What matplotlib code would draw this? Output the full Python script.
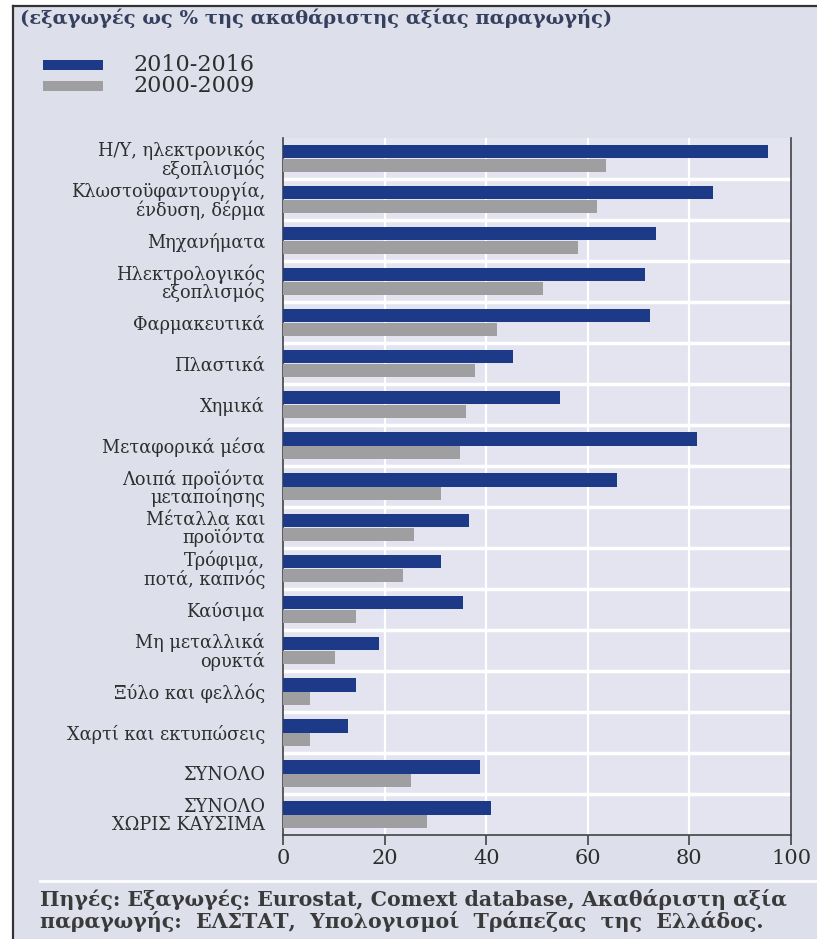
import matplotlib
matplotlib.use("Agg")
import matplotlib.pyplot as plt
import numpy as np
from matplotlib.patches import Rectangle

plt.rcParams['font.family'] = ['DejaVu Serif']

# κλάδοι (από πάνω προς τα κάτω)
categories = [
    "Η/Υ, ηλεκτρονικός\nεξοπλισμός",
    "Κλωστοϋφαντουργία,\nένδυση, δέρμα",
    "Μηχανήματα",
    "Ηλεκτρολογικός\nεξοπλισμός",
    "Φαρμακευτικά",
    "Πλαστικά",
    "Χημικά",
    "Μεταφορικά μέσα",
    "Λοιπά προϊόντα\nμεταποίησης",
    "Μέταλλα και\nπροϊόντα",
    "Τρόφιμα,\nποτά, καπνός",
    "Καύσιμα",
    "Μη μεταλλικά\nορυκτά",
    "Ξύλο και φελλός",
    "Χαρτί και εκτυπώσεις",
    "ΣΥΝΟΛΟ",
    "ΣΥΝΟΛΟ\nΧΩΡΙΣ ΚΑΥΣΙΜΑ",
]
share_2010_2016 = [95.5, 84.6, 73.4, 71.3, 72.2, 45.3, 54.5, 81.5, 65.7,
                   36.6, 31.1, 35.4, 18.9, 14.4, 12.8, 38.8, 40.9]
share_2000_2009 = [63.6, 61.8, 58.1, 51.2, 42.1, 37.8, 36.0, 34.8, 31.1,
                   25.8, 23.6, 14.4, 10.2, 5.3, 5.3, 25.2, 28.3]
period_labels = ["2010-2016", "2000-2009"]
xticks = [0, 20, 40, 60, 80, 100]

BLUE = "#1d3a88"
GREY = "#9f9fa2"
PANEL = "#dddfeb"
PLOT_BG = "#e3e4ef"
TEXT = "#2e2e2e"

W, H = 817, 939
fig = plt.figure(figsize=(W / 100, H / 100), dpi=100)
fig.patch.set_facecolor("white")

# πλαίσιο του διαγράμματος με σκούρο περίγραμμα αριστερά/πάνω
panel = Rectangle((13 / W, 0), 1 - 13 / W, 1 - 6 / H, transform=fig.transFigure,
                  facecolor=PANEL, edgecolor="none", zorder=-5)
fig.patches.append(panel)
fig.add_artist(plt.Line2D([13 / W, 13 / W], [0, 1 - 6 / H], color="#333333",
                          lw=1.6, transform=fig.transFigure, zorder=-4))
fig.add_artist(plt.Line2D([13 / W, 1], [1 - 6 / H, 1 - 6 / H], color="#333333",
                          lw=1.6, transform=fig.transFigure, zorder=-4))

ax = fig.add_axes([283 / W, 1 - 835 / H, (791 - 283) / W, (835 - 138) / H])
ax.set_facecolor(PLOT_BG)

y = np.arange(len(categories))
h = 0.34
ax.barh(y - h / 2, share_2010_2016, height=h, color=BLUE, zorder=3)
ax.barh(y + h / 2, share_2000_2009, height=h, color=GREY, zorder=3)

ax.set_ylim(len(categories) - 0.5, -0.5)
ax.set_xlim(0, 100)

# λευκές γραμμές πλέγματος
for xv in xticks[1:-1]:
    ax.axvline(xv, color="white", lw=1.6, zorder=1)
for b in y[:-1] + 0.5:
    ax.axhline(b, color="white", lw=2.5, zorder=2)

ax.set_yticks(y)
ax.set_yticklabels(categories, fontsize=12.8, color=TEXT, linespacing=0.95)
ax.tick_params(axis="y", length=0, pad=13)
ax.set_xticks(xticks)
ax.set_xticklabels([str(t) for t in xticks], fontsize=15, color=TEXT)
ax.tick_params(axis="x", direction="out", length=7, width=1.2, color="#444444", pad=3)

ax.spines["top"].set_visible(False)
for s in ("left", "right", "bottom"):
    ax.spines[s].set_color("#444444")
    ax.spines[s].set_linewidth(1.2)

# τίτλος μονάδων
fig.text(20 / W, 1 - 18 / H, "(εξαγωγές ως % της ακαθάριστης αξίας παραγωγής)",
         fontsize=14, fontweight="bold", color="#34405e", va="center", ha="left")

# υπόμνημα
for i, (lab, col) in enumerate(zip(period_labels, [BLUE, GREY])):
    yc = 65 + i * 21
    fig.patches.append(Rectangle((43 / W, 1 - (yc + 5) / H), 60 / W, 10 / H,
                                 transform=fig.transFigure, facecolor=col,
                                 edgecolor="none"))
    fig.text(133 / W, 1 - yc / H, lab, fontsize=16, color=TEXT,
             va="center", ha="left")

# διαχωριστική γραμμή και πηγές
fig.add_artist(plt.Line2D([40 / W, 1], [1 - 881 / H, 1 - 881 / H], color="white",
                          lw=2, transform=fig.transFigure))
fig.text(40 / W, 1 - 900 / H,
         "Πηγές: Εξαγωγές: Eurostat, Comext database, Ακαθάριστη αξία",
         fontsize=14.8, fontweight="bold", color="#3a3a3a", va="center", ha="left")
fig.text(40 / W, 1 - 921 / H,
         "παραγωγής:  ΕΛΣΤΑΤ,  Υπολογισμοί  Τράπεζας  της  Ελλάδος.",
         fontsize=14.8, fontweight="bold", color="#3a3a3a", va="center", ha="left")

fig.savefig("out.png", dpi=100, facecolor=fig.get_facecolor())
